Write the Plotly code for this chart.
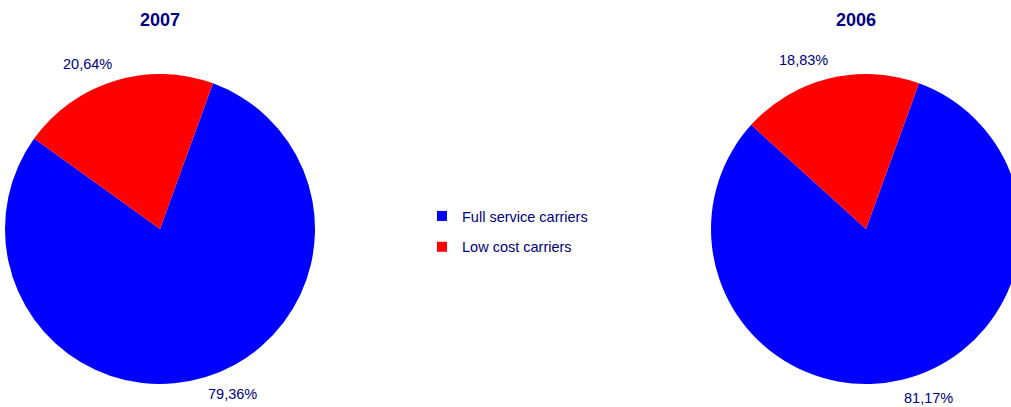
import math
import plotly.graph_objects as go

# data
carriers = ['Full service carriers', 'Low cost carriers']
colors = ['#0000FF', '#FF0000']
years = ['2007', '2006']
share_2007 = [79.36, 20.64]
share_2006 = [81.17, 18.83]

NAVY = '#000080'
W, H = 1030, 407          # a bit wider than the window: the right pie is cut off at the edge
R = 155                   # pie radius, px
CENTERS = [(160, 229), (866, 229)]
ROT = 20                  # first slice starts 20 deg clockwise from 12 o'clock


def pct_labels(values):
    # european decimal comma, as in the source
    return [f'{v:.2f}'.replace('.', ',') + '%' for v in values]


fig = go.Figure()

for year, values, (cx, cy) in zip(years, [share_2007, share_2006], CENTERS):
    fig.add_trace(go.Pie(
        labels=carriers,
        values=values,
        textinfo='none',
        marker=dict(colors=colors),
        sort=False,
        direction='clockwise',
        rotation=ROT,
        domain=dict(x=[(cx - R) / W, (cx + R) / W], y=[1 - (cy + R) / H, 1 - (cy - R) / H]),
        showlegend=False,
        hovertext=pct_labels(values),
        hoverinfo='label+text',
        name=year,
    ))

    # outside data labels, placed like the spreadsheet does (a little before mid-slice)
    total = sum(values)
    cum = 0
    for v, txt in zip(values, pct_labels(values)):
        mid = math.radians(ROT + 360 * (cum + v / 2) / total - 6.5)
        cum += v
        lx = cx + 180 * math.sin(mid)
        ly = cy - 180 * math.cos(mid)
        fig.add_annotation(
            text=txt, x=lx / W, y=1 - ly / H, xref='paper', yref='paper',
            showarrow=False, font=dict(size=14.5, color=NAVY),
            xanchor='center', yanchor='middle',
        )

# legend entries (square swatches) via dummy traces so the spacing can be set
for name, c in zip(carriers, colors):
    fig.add_trace(go.Scatter(
        x=[None], y=[None], mode='markers', name=name, legendgroup=name,
        marker=dict(symbol='square', size=10, color=c),
    ))

title_x = [160, 856]
for year, xx in zip(years, title_x):
    fig.add_annotation(
        text='<b>' + year + '</b>', x=xx / W, y=1 - 20 / H, xref='paper', yref='paper',
        showarrow=False, font=dict(size=18, color=NAVY), xanchor='center', yanchor='middle',
    )

fig.update_layout(
    width=W,
    height=H,
    margin=dict(l=0, r=0, t=0, b=0, pad=0),
    paper_bgcolor='white',
    plot_bgcolor='white',
    font=dict(family='Liberation Sans, Arial, sans-serif', color=NAVY),
    xaxis=dict(visible=False),
    yaxis=dict(visible=False),
    showlegend=True,
    legend=dict(
        x=422 / W, y=1 - 200 / H, xanchor='left', yanchor='top',
        font=dict(size=14.5, color=NAVY),
        tracegroupgap=9,
        bgcolor='rgba(0,0,0,0)',
    ),
)

fig.write_html(
    'out.html',
    config={'displayModeBar': False},
    post_script="document.body.style.margin='0';document.body.style.overflow='hidden';",
)
